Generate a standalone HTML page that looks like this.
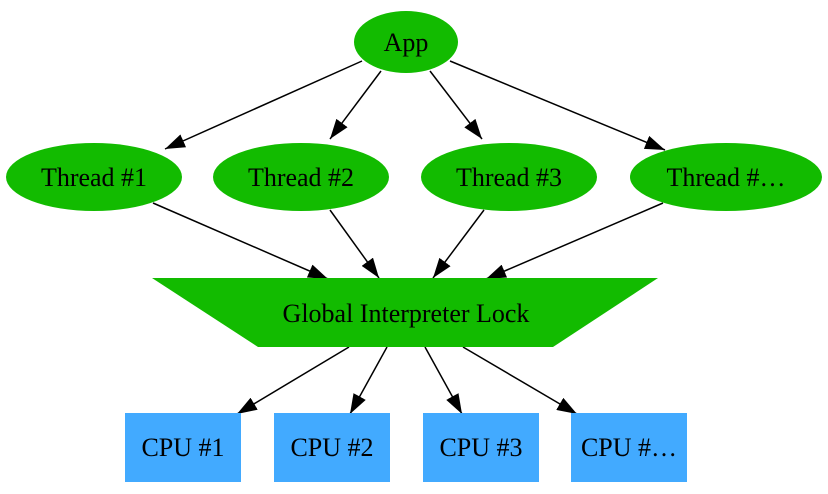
<!DOCTYPE html>
<html><head><meta charset="utf-8"><style>
html,body{margin:0;padding:0;background:#fff;}
svg text{font-family:"Liberation Serif",serif;font-size:26px;fill:#000;}
</style></head><body>
<svg width="828" height="489" viewBox="0 0 828 489" xmlns="http://www.w3.org/2000/svg">
<defs>
<marker id="b" markerWidth="20" markerHeight="14" refX="20" refY="7" orient="auto" markerUnits="userSpaceOnUse" viewBox="0 0 20 14">
<path d="M0,0 L20,7 L0,14 z" fill="#000"/>
</marker>
</defs>
<g stroke="#000" stroke-width="1.5" fill="none" marker-end="url(#b)">
<line x1="362" y1="61" x2="165" y2="149"/>
<line x1="381" y1="71" x2="330" y2="139"/>
<line x1="430" y1="71" x2="482" y2="139"/>
<line x1="450" y1="61" x2="665" y2="150"/>
<line x1="153" y1="203" x2="328" y2="279"/>
<line x1="330" y1="210" x2="379" y2="278"/>
<line x1="484" y1="210" x2="433" y2="278"/>
<line x1="663" y1="203" x2="486" y2="279"/>
<line x1="349" y1="347" x2="237" y2="414"/>
<line x1="387" y1="347" x2="350" y2="414"/>
<line x1="425" y1="347" x2="462" y2="414"/>
<line x1="463" y1="347" x2="577" y2="414"/>
</g>
<g fill="#12bb00">
<ellipse cx="406" cy="42" rx="52" ry="31"/>
<ellipse cx="94" cy="177" rx="88" ry="34"/>
<ellipse cx="301" cy="177" rx="88" ry="34"/>
<ellipse cx="509" cy="177" rx="88" ry="34"/>
<ellipse cx="726" cy="177" rx="96" ry="34"/>
<polygon points="152,278 658,278 553,347 258,347"/>
</g>
<g fill="#42aaff">
<rect x="125" y="413" width="116" height="69"/>
<rect x="274" y="413" width="116" height="69"/>
<rect x="423" y="413" width="116" height="69"/>
<rect x="571" y="413" width="116" height="69"/>
</g>
<g text-anchor="middle">
<text x="406" y="51">App</text>
<text x="94" y="186">Thread #1</text>
<text x="301" y="186">Thread #2</text>
<text x="509" y="186">Thread #3</text>
<text x="726" y="186">Thread #…</text>
<text x="406" y="322">Global Interpreter Lock</text>
<text x="183" y="456">CPU #1</text>
<text x="332" y="456">CPU #2</text>
<text x="481" y="456">CPU #3</text>
<text x="629" y="456">CPU #…</text>
</g>
</svg>
</body></html>
